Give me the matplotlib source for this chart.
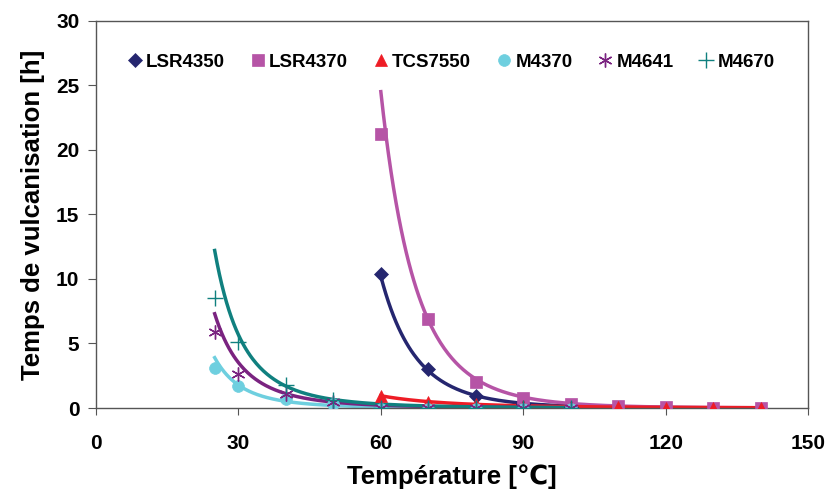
import numpy as np
import matplotlib
matplotlib.use('Agg')
import matplotlib.pyplot as plt

plt.rcParams['font.family'] = ['Liberation Sans', 'DejaVu Sans']
plt.rcParams['font.weight'] = 'bold'

# measured points
x_lsr4350 = [60, 70, 80, 90, 100]
y_lsr4350 = [10.4, 3.05, 0.95, 0.3, 0.1]
x_lsr4370 = [60, 70, 80, 90, 100, 110, 120, 130, 140]
y_lsr4370 = [21.2, 6.9, 2.05, 0.8, 0.3, 0.12, 0.06, 0.04, 0.03]
x_tcs7550 = [60, 70, 80, 90, 100, 110, 120, 130, 140]
y_tcs7550 = [0.95, 0.5, 0.3, 0.15, 0.1, 0.05, 0.04, 0.03, 0.02]
x_m4370 = [25, 30, 40, 50, 60, 70, 80, 90, 100]
y_m4370 = [3.1, 1.7, 0.7, 0.3, -0.05, -0.05, -0.05, -0.05, -0.05]
x_m4641 = [25, 30, 40, 50, 60, 70, 80, 90, 100]
y_m4641 = [5.9, 2.65, 1.1, 0.5, 0.0, 0.0, 0.0, 0.0, 0.0]
x_m4670 = [25, 30, 40, 50, 60, 70, 80, 90, 100]
y_m4670 = [8.5, 5.1, 1.75, 0.6, 0.0, 0.0, 0.0, 0.0, 0.0]

# power trend lines: (x start, x end, value at start, exponent)
trend_lsr4350 = (60, 140, 10.2, 8.2)
trend_lsr4370 = (60, 140, 24.5, 8.3)
trend_tcs7550 = (60, 140, 0.95, 4.2)
trend_m4370 = (25, 100, 3.9, 4.3)
trend_m4641 = (25, 100, 7.3, 4.0)
trend_m4670 = (25, 100, 12.2, 4.2)

series = [
    ('LSR4350', x_lsr4350, y_lsr4350, trend_lsr4350, '#25266f', 'D', 7),
    ('LSR4370', x_lsr4370, y_lsr4370, trend_lsr4370, '#b654a6', 's', 8.5),
    ('TCS7550', x_tcs7550, y_tcs7550, trend_tcs7550, '#ee1c25', '^', 8.5),
    ('M4370', x_m4370, y_m4370, trend_m4370, '#6ecfdf', 'o', 8.5),
    ('M4641', x_m4641, y_m4641, trend_m4641, '#7a2380', (6, 2, 0), 10),
    ('M4670', x_m4670, y_m4670, trend_m4670, '#10807f', '+', 11),
]

fig = plt.figure(figsize=(8.32, 4.97), dpi=100)
ax = fig.add_axes([0.1154, 0.179, 0.8558, 0.7795])

for name, xs, ys, tr, col, mk, ms in series:
    x0, x1, y0, b = tr
    xt = np.linspace(x0, x1, 300)
    ax.plot(xt, y0 * (xt / x0) ** (-b), color=col, lw=2.5, zorder=2)
for name, xs, ys, tr, col, mk, ms in series:
    thin = mk in ('+', (6, 2, 0))
    ax.plot(xs, ys, linestyle='none', marker=mk, markersize=ms, color=col,
            markeredgewidth=1.0 if thin else 0.5, label=name, zorder=3)

ax.set_xlim(0, 150)
ax.set_ylim(0, 30)
ax.set_xticks([0, 30, 60, 90, 120, 150])
ax.set_yticks([0, 5, 10, 15, 20, 25, 30])
for s in ax.spines.values():
    s.set_color('#555555')
    s.set_linewidth(1.0)
ax.tick_params(axis='x', direction='out', length=5, color='#555555', pad=14, labelsize=15)
ax.tick_params(axis='y', direction='out', length=6, color='#555555', pad=6, labelsize=15)
ax.set_xlabel('Température [℃]', fontsize=18.5, fontweight='bold', labelpad=8)
ax.set_ylabel('Temps de vulcanisation [h]', fontsize=18.5, fontweight='bold', labelpad=8)

ax.legend(loc='center', bbox_to_anchor=(0.5, 0.893), ncol=6, frameon=False,
          handlelength=0.6, handletextpad=0.3, columnspacing=1.45,
          prop={'weight': 'bold', 'size': 13.5})

fig.savefig('out.png', dpi=100)
